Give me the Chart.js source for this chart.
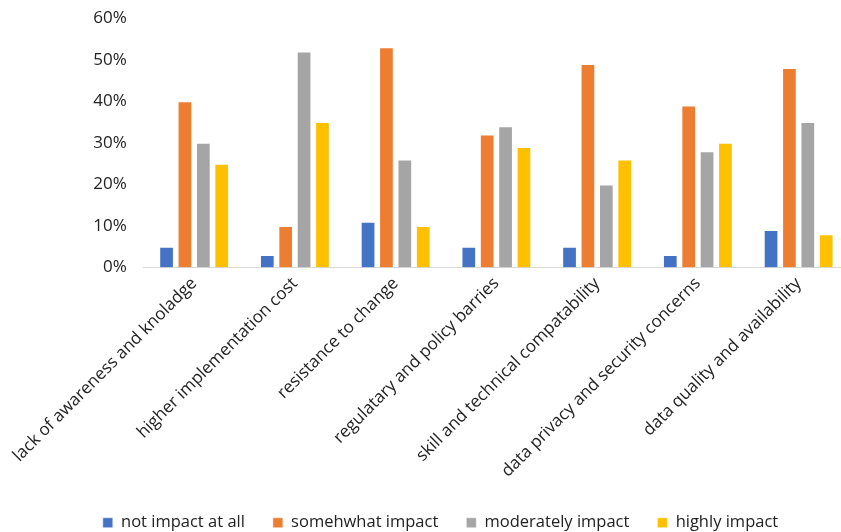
<!DOCTYPE html>
<html lang="en">
<head>
  <meta charset="UTF-8">
  <title>Barriers to Adoption</title>
  <script src="https://cdn.jsdelivr.net/npm/chart.js"></script>
  <style>
    html, body { margin: 0; padding: 0; background: #fff; overflow: hidden; }
    #wrap { width: 882px; height: 552px; margin-top: -9px; }
  </style>
</head>
<body>
  <div id="wrap"><canvas id="barChart" width="882" height="552"></canvas></div>

<script>
const categories = [
  'lack of awareness and knoladge',
  'higher implementation cost',
  'resistance to change',
  'regulatary and policy barries',
  'skill and technical compatability',
  'data privacy and security concerns',
  'data quality and availability'
];
const notImpact = [5, 3, 11, 5, 5, 3, 9];
const somewhatImpact = [40, 10, 53, 32, 49, 39, 48];
const moderatelyImpact = [30, 52, 26, 34, 20, 28, 35];
const highlyImpact = [25, 35, 10, 29, 26, 30, 8];
const yTicks = [0, 10, 20, 30, 40, 50, 60];

const FONT = '"Open Sans", sans-serif';

function series(label, data, color) {
  return {
    label, data,
    backgroundColor: color,
    borderColor: 'rgba(255,255,255,0.5)',
    borderWidth: 1,
    categoryPercentage: 0.73,
    barPercentage: 0.8
  };
}

new Chart(document.getElementById('barChart'), {
  type: 'bar',
  data: {
    labels: categories,
    datasets: [
      series('not impact at all', notImpact, '#4472C4'),
      series('somehwhat impact', somewhatImpact, '#ED7D31'),
      series('moderately impact', moderatelyImpact, '#A5A5A5'),
      series('highly impact', highlyImpact, '#FFC000')
    ]
  },
  options: {
    responsive: false,
    animation: false,
    layout: { padding: { top: 0, right: 33, bottom: 2, left: 32 } },
    plugins: {
      tooltip: { enabled: false },
      legend: {
        position: 'bottom',
        labels: {
          boxWidth: 10, boxHeight: 10, padding: 28,
          color: '#222', font: { family: FONT, size: 16.5 }
        }
      }
    },
    scales: {
      x: {
        grid: { display: false, drawTicks: false },
        border: { color: '#D9D9D9', width: 1 },
        ticks: {
          color: '#222', maxRotation: 45, minRotation: 45, padding: 6,
          font: { family: FONT, size: 17 }
        },
        afterFit: s => { s.height = 219; }
      },
      y: {
        min: 0, max: 60,
        afterBuildTicks: s => { s.ticks = yTicks.map(v => ({ value: v })); },
        grid: { display: false, drawTicks: false },
        border: { display: false },
        ticks: {
          color: '#222', padding: 17,
          font: { family: FONT, size: 17 },
          callback: v => v + '%'
        },
        afterFit: s => { s.width = 108; }
      }
    }
  }
});
</script>
</body>
</html>
